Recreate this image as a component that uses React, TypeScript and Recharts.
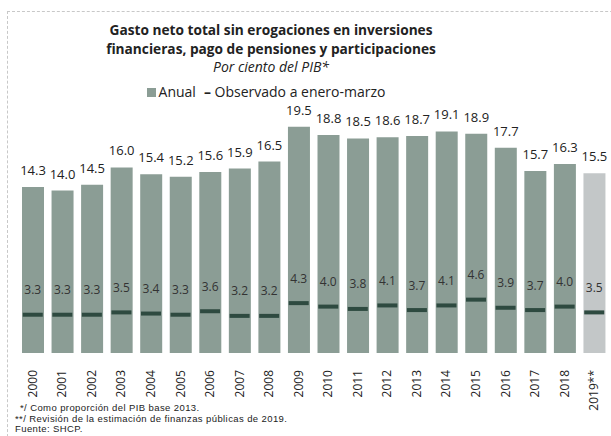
import React from "react";
import { ComposedChart, Bar, Scatter, XAxis, YAxis, Cell, LabelList } from "recharts";

const YEARS = ["2000", "2001", "2002", "2003", "2004", "2005", "2006", "2007", "2008", "2009", "2010", "2011", "2012", "2013", "2014", "2015", "2016", "2017", "2018", "2019**"];
const ANUAL = [14.3, 14.0, 14.5, 16.0, 15.4, 15.2, 15.6, 15.9, 16.5, 19.5, 18.8, 18.5, 18.6, 18.7, 19.1, 18.9, 17.7, 15.7, 16.3, 15.5];
const OBSERVADO = [3.3, 3.3, 3.3, 3.5, 3.4, 3.3, 3.6, 3.2, 3.2, 4.3, 4.0, 3.8, 4.1, 3.7, 4.1, 4.6, 3.9, 3.7, 4.0, 3.5];

const FONT = "'Open Sans', 'DejaVu Sans', sans-serif";
const BAR = "#8b9d95";
const BAR_EST = "#c3c7c8";
const MARK = "#2e4a40";

const data = YEARS.map((y, i) => ({ year: y, anual: ANUAL[i], obs: OBSERVADO[i] }));

function Marker(props: any) {
  const { cx, cy } = props;
  if (cx == null || cy == null) return null;
  return <rect x={cx - 10} y={cy - 2} width={20} height={4} fill={MARK} />;
}

function YearTick(props: any) {
  const { x, y, payload } = props;
  return (
    <text x={x} y={y} transform={`rotate(-90 ${x} ${y})`} textAnchor="end" dx={-9} dy={4} fontSize={12} fill="#222" fontFamily={FONT}>
      {payload.value}
    </text>
  );
}

const fmt = (v: any) => Number(v).toFixed(1);

export default function App() {
  return (
    <div style={{ position: "fixed", left: 0, top: 0, width: 611, height: 436, background: "#fff", fontFamily: FONT, color: "#222" }}>
      <div style={{ position: "absolute", left: 7, top: 11, width: 640, height: 440, borderLeft: "1px dashed #c8c8c8", borderTop: "1px dashed #c8c8c8" }} />
      <div style={{ position: "absolute", left: 0, top: 20, width: 542, textAlign: "center", fontWeight: 700, fontSize: 13.7, lineHeight: "19px" }}>
        Gasto neto total sin erogaciones en inversiones<br />financieras, pago de pensiones y participaciones
      </div>
      <div style={{ position: "absolute", left: 0, top: 57, width: 542, textAlign: "center", fontStyle: "italic", fontSize: 14 }}>
        Por ciento del PIB*
      </div>
      <div style={{ position: "absolute", left: 0, top: 82, width: 532, textAlign: "center", fontSize: 14 }}>
        <span style={{ display: "inline-block", width: 9, height: 9, background: BAR, marginRight: 3 }} />Anual
        <span style={{ marginLeft: 8, fontWeight: 700 }}>–</span> Observado a enero-marzo
      </div>
      <ComposedChart width={611} height={436} data={data} margin={{ top: 121, right: 2, bottom: 43, left: 18 }} style={{ position: "absolute", left: 0, top: 0 }}>
        <XAxis dataKey="year" interval={0} axisLine={false} tickLine={false} height={40} tick={<YearTick />} />
        <YAxis hide domain={[0, 20]} />
        <Bar dataKey="anual" barSize={22} isAnimationActive={false}>
          {data.map((d, i) => (
            <Cell key={d.year} fill={i === data.length - 1 ? BAR_EST : BAR} />
          ))}
          <LabelList dataKey="anual" position="top" offset={12} formatter={fmt} style={{ fontSize: 13, fill: "#222", fontFamily: FONT }} />
        </Bar>
        <Scatter dataKey="obs" shape={<Marker />} isAnimationActive={false}>
          <LabelList dataKey="obs" position="top" offset={16} formatter={fmt} style={{ fontSize: 12, fill: "#333", fontFamily: FONT }} />
        </Scatter>
      </ComposedChart>
      <div style={{ position: "absolute", left: 15, top: 403, fontSize: 9.5, lineHeight: "10.7px", letterSpacing: 0.4, color: "#222", fontFamily: "'Liberation Sans', sans-serif" }}>
        <div style={{ paddingLeft: 5 }}>*/ Como proporción del PIB base 2013.</div>
        <div>**/ Revisión de la estimación de finanzas públicas de 2019.</div>
        <div>Fuente: SHCP.</div>
      </div>
    </div>
  );
}
